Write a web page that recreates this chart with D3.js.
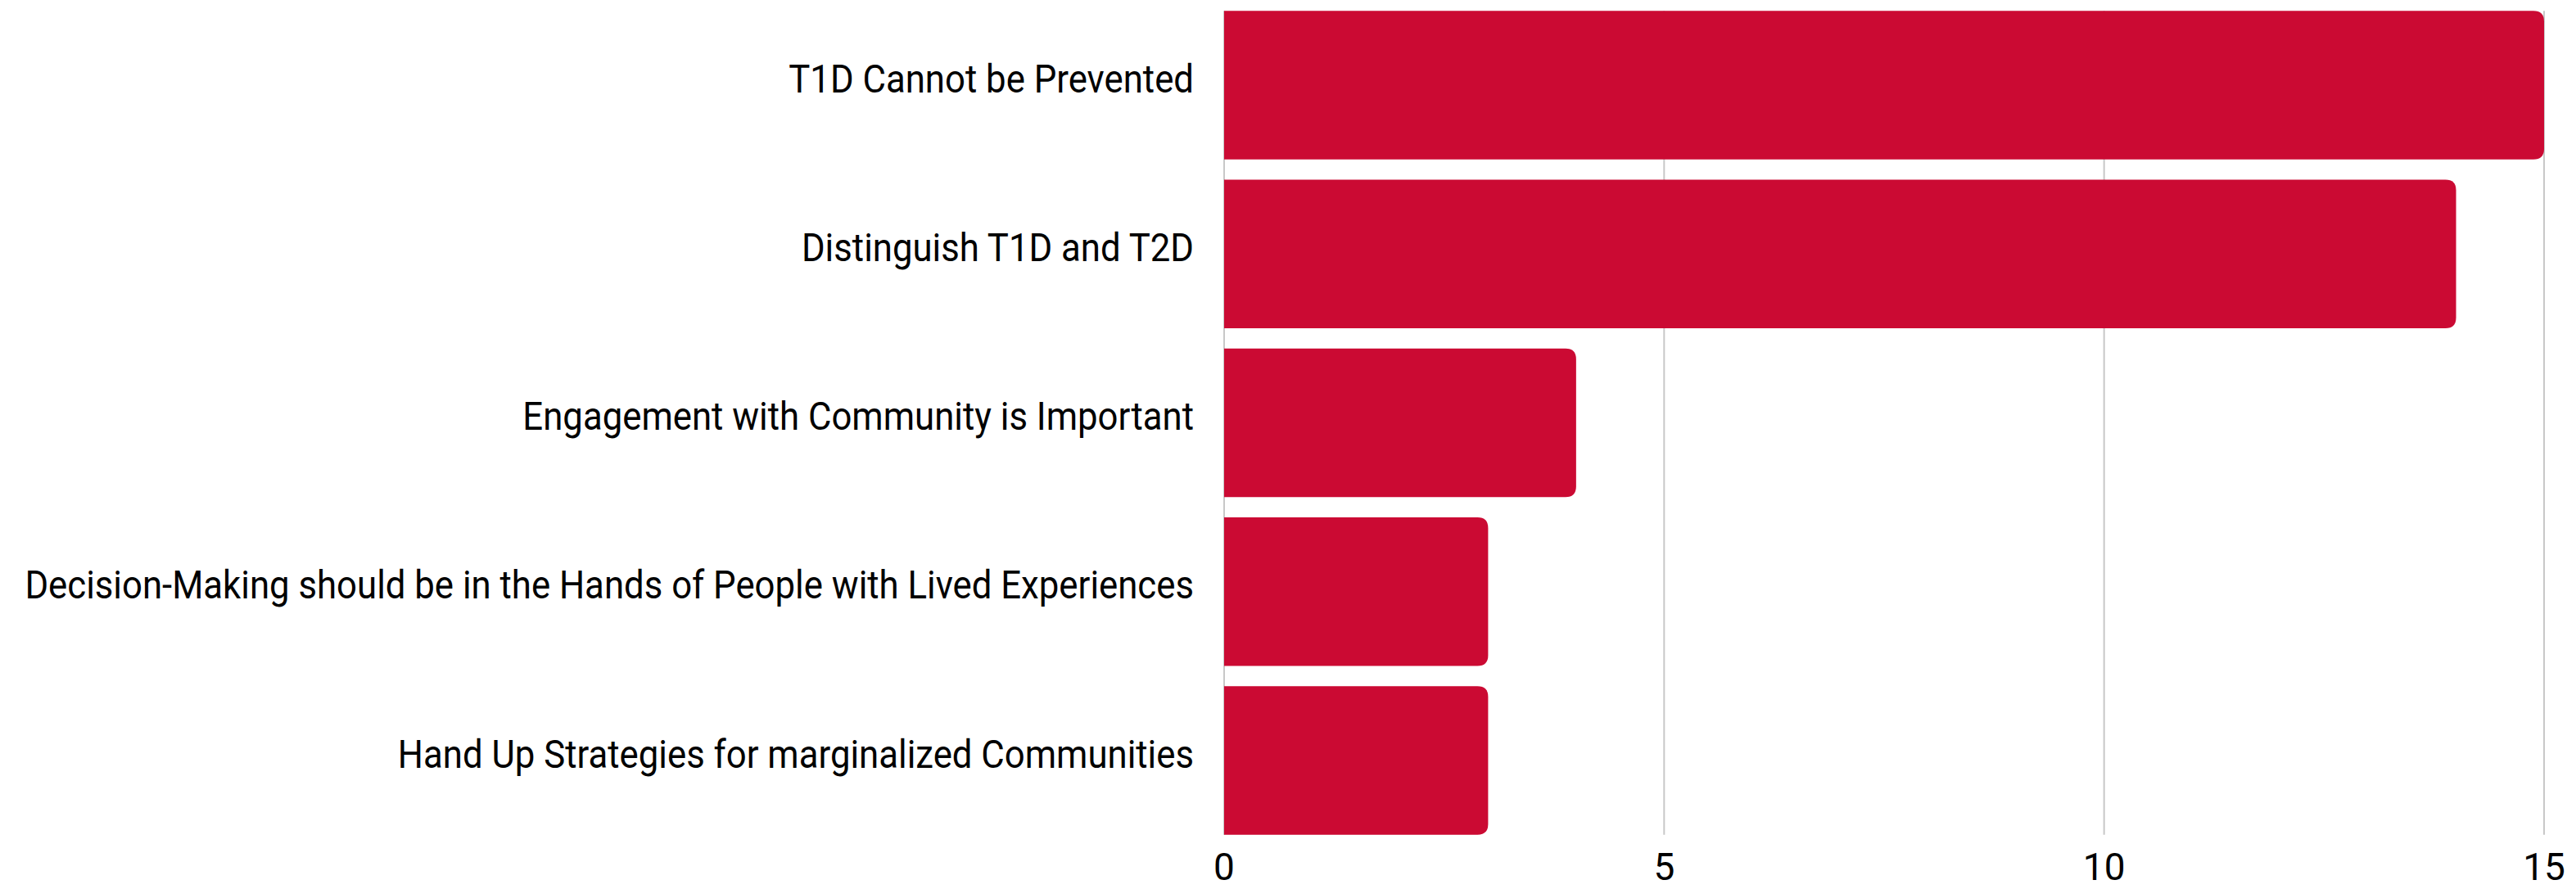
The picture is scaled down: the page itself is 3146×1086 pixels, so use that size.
<!DOCTYPE html>
<html>
<head>
<meta charset="utf-8">
<script src="https://cdn.jsdelivr.net/npm/d3@7"></script>
<style>
  body { margin: 0; background: #fff; }
  .text { font-family: Roboto, "Noto Sans", sans-serif; fill: #000; }
</style>
</head>
<body>
<div id="chart"></div>
<script>
// data
var categories = [
  "T1D Cannot be Prevented",
  "Distinguish T1D and T2D",
  "Engagement with Community is Important",
  "Decision-Making should be in the Hands of People with Lived Experiences",
  "Hand Up Strategies for marginalized Communities"
];
var counts = [15, 14, 4, 3, 3];
var xTicks = [0, 5, 10, 15];

var W = 3146, H = 1086;
var margin = {top: 1, right: 39, bottom: 54, left: 1495};
var width = W - margin.left - margin.right,
    height = H - margin.top - margin.bottom;

var svg = d3.select("#chart")
  .append("svg")
    .attr("width", W)
    .attr("height", H)
  .append("g")
    .attr("transform", "translate(" + margin.left + "," + margin.top + ")");

var x = d3.scaleLinear()
  .domain([0, 15])
  .range([0, width]);

var y = d3.scaleBand()
  .domain(categories)
  .range([0, height])
  .paddingInner(0.121)
  .paddingOuter(0.06);

var gridTop = y(categories[0]);
var gridBottom = y(categories[categories.length - 1]) + y.bandwidth();

// gridlines
svg.append("g")
  .selectAll("line")
  .data(xTicks)
  .enter()
  .append("line")
    .attr("x1", function(d) { return x(d); })
    .attr("x2", function(d) { return x(d); })
    .attr("y1", gridTop)
    .attr("y2", gridBottom)
    .attr("stroke", "#c8c8c8")
    .attr("stroke-width", 2);

// bars, rounded on the right end only
var r = 13;
var barPath = function(d, i) {
  var x0 = x(0), x1 = x(d), y0 = y(categories[i]), h = y.bandwidth();
  var rr = Math.min(r, (x1 - x0) / 2);
  return "M" + x0 + "," + y0 +
    "H" + (x1 - rr) +
    "Q" + x1 + "," + y0 + " " + x1 + "," + (y0 + rr) +
    "V" + (y0 + h - rr) +
    "Q" + x1 + "," + (y0 + h) + " " + (x1 - rr) + "," + (y0 + h) +
    "H" + x0 + "Z";
};
svg.append("g")
  .selectAll("path")
  .data(counts)
  .enter()
  .append("path")
    .attr("d", barPath)
    .style("fill", "#cb0a33");

// category labels (font is wider than the original, so squeeze horizontally)
var labels = svg.append("g")
  .selectAll("text")
  .data(categories)
  .enter()
  .append("text")
    .attr("class", "text")
    .attr("x", 0)
    .attr("y", 0)
    .attr("dy", "0.18em")
    .attr("text-anchor", "end")
    .style("font-size", "48px")
    .text(function(d) { return d; });

var longest = d3.max(labels.nodes(), function(n) { return n.getComputedTextLength(); });
var sx = Math.min(1, 1428 / longest);
labels.attr("transform", function(d) {
  return "translate(-37," + (y(d) + y.bandwidth() / 2) + ") scale(" + sx + ",1)";
});

// x tick labels
svg.append("g")
  .selectAll("text")
  .data(xTicks)
  .enter()
  .append("text")
    .attr("class", "text")
    .attr("x", function(d) { return x(d); })
    .attr("y", 1075 - margin.top)
    .attr("text-anchor", "middle")
    .style("font-size", "46px")
    .text(function(d) { return d; });
</script>
</body>
</html>
